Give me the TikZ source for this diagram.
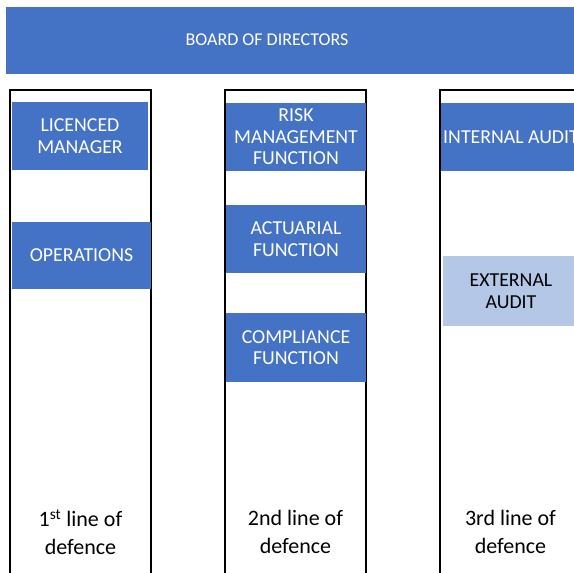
\documentclass[tikz,border=0pt]{standalone}
\usepackage{fontspec}
\setmainfont{Carlito}
\usetikzlibrary{positioning}
\definecolor{boardblue}{HTML}{4472C4}
\definecolor{paleblue}{HTML}{B4C7E7}

\begin{document}
\begin{tikzpicture}[x=1pt, y=-1pt,
    unit/.style={fill=boardblue, text=white, align=center, inner sep=0pt,
        font=\fontsize{19.8}{21.5}\selectfont, minimum width=140pt, minimum height=68pt},
    lane/.style={draw=black, line width=1.3pt},
    caption/.style={align=center, font=\fontsize{22}{27.5}\selectfont}]

\useasboundingbox (0,0) rectangle (574,573);
\clip (0,0) rectangle (574,573);

% 董事会
\fill[boardblue] (6,7) rectangle (600,74);
\node[text=white, font=\fontsize{18}{21.5}\selectfont] (board) at (267,40) {BOARD OF DIRECTORS};

% 三道防线的外框
\draw[lane] (10,90) rectangle (151,600);
\draw[lane] (225,90) rectangle (366,600);
\draw[lane] (440,90) rectangle (581,600);

% 第一道防线
\node[unit, minimum width=136pt] (manager) at (80,136) {LICENCED\\MANAGER};
\node[unit, minimum width=139pt, minimum height=67pt] (operations) at (81.5,255.5) {OPERATIONS};

% 第二道防线
\node[unit] (risk) at (296,137) {RISK\\MANAGEMENT\\FUNCTION};
\node[unit] (actuarial) at (296,239) {ACTUARIAL\\FUNCTION};
\node[unit, minimum height=69pt] (compliance) at (296,347.5) {COMPLIANCE\\FUNCTION};

% 第三道防线
\node[unit] (internal) at (511,137) {INTERNAL AUDIT};
\node[unit, fill=paleblue, text=black, minimum width=136pt, minimum height=70pt] (external) at (511,291) {EXTERNAL\\AUDIT};

% 标签
\node[caption] (first) at (80.5,532) {1\textsuperscript{st} line of\\defence};
\node[caption] (second) at (295.5,532) {2nd line of\\defence};
\node[caption] (third) at (510.5,532) {3rd line of\\defence};

\end{tikzpicture}
\end{document}
